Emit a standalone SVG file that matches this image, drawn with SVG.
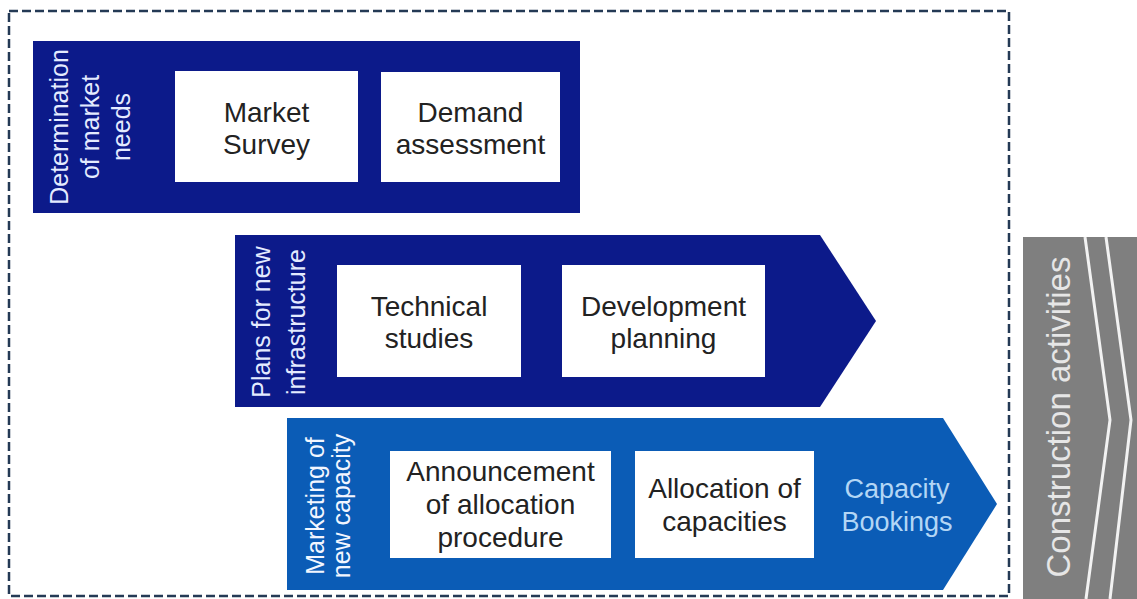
<svg xmlns="http://www.w3.org/2000/svg" width="1137" height="599" viewBox="0 0 1137 599">
<style>
  .dark { fill: #0c1a8a; }
  .mid { fill: #0b5cb6; }
  .card { fill: #ffffff; }
  .t { font-family: "Liberation Sans", Arial, sans-serif; font-size: 28px; fill: #222222; text-anchor: middle; }
  .lbl { font-family: "Liberation Sans", Arial, sans-serif; font-size: 25px; fill: #e4ebff; text-anchor: middle; }
  .cap { font-family: "Liberation Sans", Arial, sans-serif; font-size: 27px; fill: #b3d6f5; text-anchor: middle; }
  .con { font-family: "Liberation Sans", Arial, sans-serif; font-size: 33px; fill: #e6e6e6; text-anchor: middle; }
</style>
<rect width="1137" height="599" fill="#ffffff"/>
<rect id="frame" x="9" y="11" width="1000" height="585" fill="none" stroke="#243a55" stroke-width="2.5" stroke-dasharray="9 4"/>

<g id="construction">
  <rect x="1023" y="237" width="114" height="362" fill="#7f7f7f"/>
  <polyline points="1085,237 1110,420 1086,599" fill="none" stroke="#f2f2f2" stroke-width="3"/>
  <polyline points="1106,237 1131,420 1110,599" fill="none" stroke="#f2f2f2" stroke-width="3"/>
  <text class="con" transform="translate(1070,417) rotate(-90)">Construction activities</text>
</g>

<g id="stage1">
  <rect class="dark" x="33" y="41" width="547" height="172"/>
  <text class="lbl" transform="translate(68,127) rotate(-90)">Determination</text>
  <text class="lbl" transform="translate(99,127) rotate(-90)">of market</text>
  <text class="lbl" transform="translate(130,127) rotate(-90)">needs</text>
</g>
<g id="market-survey">
  <rect class="card" x="175" y="71" width="183" height="111"/>
  <text class="t" x="266.5" y="122">Market</text>
  <text class="t" x="266.5" y="154">Survey</text>
</g>
<g id="demand-assessment">
  <rect class="card" x="381" y="72" width="179" height="110"/>
  <text class="t" x="470.5" y="122">Demand</text>
  <text class="t" x="470.5" y="154">assessment</text>
</g>

<g id="stage2">
  <polygon class="dark" points="235,235 820,235 876,321 820,407 235,407"/>
  <text class="lbl" transform="translate(270,322) rotate(-90)">Plans for new</text>
  <text class="lbl" transform="translate(305,322) rotate(-90)">infrastructure</text>
</g>
<g id="technical-studies">
  <rect class="card" x="337" y="265" width="184" height="112"/>
  <text class="t" x="429" y="316">Technical</text>
  <text class="t" x="429" y="348">studies</text>
</g>
<g id="development-planning">
  <rect class="card" x="562" y="265" width="203" height="112"/>
  <text class="t" x="663.5" y="316">Development</text>
  <text class="t" x="663.5" y="348">planning</text>
</g>

<g id="stage3">
  <polygon class="mid" points="287,418 943,418 997,504 943,590 287,590"/>
  <text class="lbl" style="fill:#f2f6ff" transform="translate(324,506) rotate(-90)">Marketing of</text>
  <text class="lbl" style="fill:#f2f6ff" transform="translate(350,506) rotate(-90)">new capacity</text>
  <text class="cap" x="897" y="498">Capacity</text>
  <text class="cap" x="897" y="531">Bookings</text>
</g>
<g id="announcement">
  <rect class="card" x="390" y="451" width="221" height="107"/>
  <text class="t" x="500.5" y="481">Announcement</text>
  <text class="t" x="500.5" y="514">of allocation</text>
  <text class="t" x="500.5" y="547">procedure</text>
</g>
<g id="allocation">
  <rect class="card" x="635" y="451" width="179" height="107"/>
  <text class="t" x="724.5" y="498">Allocation of</text>
  <text class="t" x="724.5" y="531">capacities</text>
</g>
<g id="connectors"></g>
</svg>
